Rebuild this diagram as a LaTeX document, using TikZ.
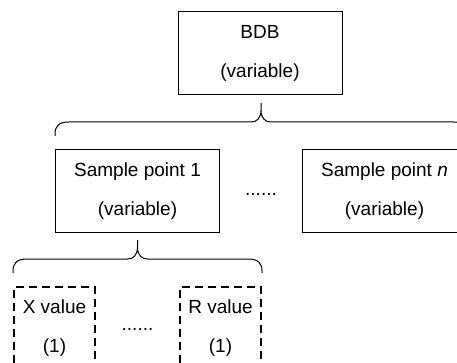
\documentclass[tikz,border=0pt]{standalone}
\usepackage{fontspec}
\setmainfont{Liberation Sans}
\usetikzlibrary{positioning, calc}

\tikzset{
  box/.style={draw, line width=1pt, minimum width=164pt, minimum height=83pt,
    align=center, inner sep=0pt, font=\fontsize{19}{39}\selectfont},
  valbox/.style={box, line width=2pt, dash pattern=on 8pt off 5pt,
    minimum width=81pt, minimum height=82pt},
  dots/.style={inner sep=0pt, font=\fontsize{19}{23}\selectfont},
  brc/.style={line width=1pt, to path={
    let \p1=(\tikztostart), \p2=(\tikztotarget),
        \p3=($(\tikztostart)!0.5!(\tikztotarget)$) in
    (\x1,\y1) -- (\x1,\y1+2pt)
      .. controls (\x1,\y1+10pt) and (\x1+4pt,\y1+14pt) .. (\x1+14pt,\y1+14pt)
      -- (\x3-10pt,\y1+14pt)
      .. controls (\x3-4pt,\y1+14pt) and (\x3,\y1+18pt) .. (\x3,\y1+26pt)
      -- (\x3,\y1+33pt) -- (\x3,\y1+26pt)
      .. controls (\x3,\y1+18pt) and (\x3+4pt,\y1+14pt) .. (\x3+10pt,\y1+14pt)
      -- (\x2-14pt,\y1+14pt)
      .. controls (\x2-4pt,\y1+14pt) and (\x2,\y1+10pt) .. (\x2,\y1+2pt)
      -- (\x2,\y1) \tikztonodes}}
}

\begin{document}
\begin{tikzpicture}[x=1pt, y=-1pt]
\useasboundingbox (0,0) rectangle (457,363);
\clip (0,0) rectangle (457,363);
% top level
\node[box] (bdb) at (260,53.5) {BDB\\(variable)};
% sample points
\node[box, anchor=north west] (sp1) at (55,149) {Sample point 1\\(variable)};
\node[box, right=82pt of sp1] (spn) {Sample point \textit{n}\\(variable)};
\node[dots] (gap1) at ($(sp1.east)!0.5!(spn.west)+(0,3)$) {......};
% values
\node[valbox, anchor=north west] (xval) at (13,286) {X value\\(1)};
\node[valbox, right=83pt of xval] (rval) {R value\\(1)};
\node[dots] (gap2) at ($(xval.east)!0.5!(rval.west)+(0,1)$) {......};
% braces
\draw[brc] ($(sp1.north west)+(0,-13)$) to ($(spn.north east)+(0,-13)$);
\draw[brc] ($(xval.north west)+(0,-13)$) to ($(rval.north east)+(0,-13)$);
\end{tikzpicture}
\end{document}
